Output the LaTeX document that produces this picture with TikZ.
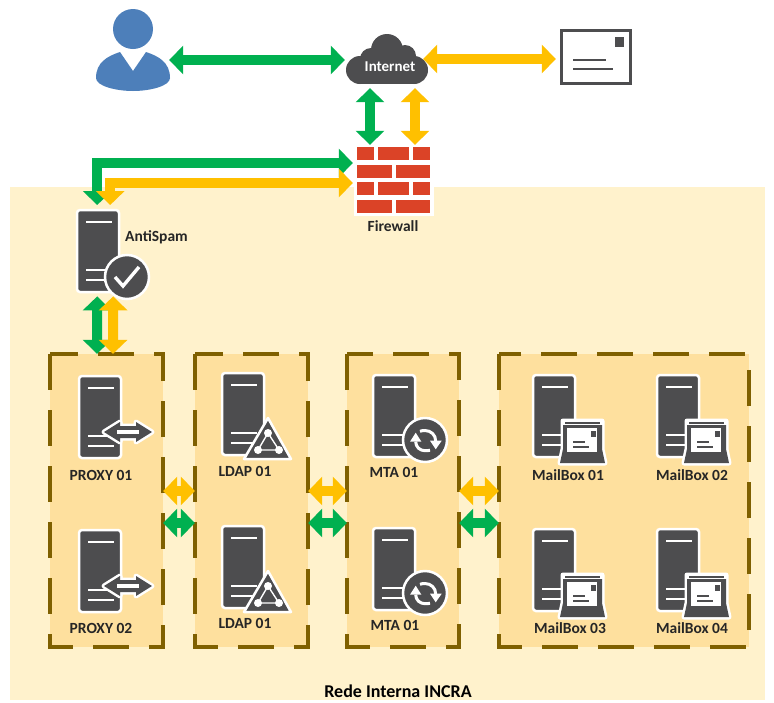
\documentclass[tikz,border=0pt]{standalone}
\usepackage{fontspec}
\setmainfont{Carlito}
\usetikzlibrary{arrows.meta,calc}
\definecolor{gArrow}{HTML}{00B050}
\definecolor{yArrow}{HTML}{FFC000}
\definecolor{zone}{HTML}{FFF2CC}
\definecolor{boxFill}{HTML}{FEE09E}
\definecolor{boxLine}{HTML}{7F6000}
\definecolor{dark}{HTML}{4D4D4F}
\definecolor{brick}{HTML}{DB4327}
\definecolor{userBlue}{HTML}{4D7FBA}
\definecolor{ink}{HTML}{262626}
\tikzset{
  gbase/.style={line width=10pt,{Triangle[length=14pt,width=28pt]}-{Triangle[length=14pt,width=28pt]}},
  gboth/.style={gbase,draw=gArrow,color=gArrow},
  yboth/.style={gbase,draw=yArrow,color=yArrow},
  grp/.style={draw=boxLine,fill=boxFill,line width=4.5pt,dash pattern=on 36pt off 20pt},
  slot/.style={inner sep=0pt,minimum width=42pt,minimum height=82pt},
  lbl/.style={font=\fontsize{15.5}{17}\selectfont\bfseries,text=ink,inner sep=0pt},
  bar/.style={white,line width=2.6pt},
  brickf/.style={fill=brick,draw=none},
}
% server body: #1 name, #2,#3 top-left
\newcommand\srv[3]{%
  \node[slot,anchor=north west] (#1) at (#2,#3) {};
  \begin{scope}[shift={(#2,#3)}]
    \fill[dark,draw=white,line width=2.5pt,rounded corners=3pt] (0,82) -- (0,0) -- (42,0) -- (42,82) -- cycle;
    \draw[bar] (9,12) -- (35,12);
    \draw[bar] (9,60) -- (35,60);
    \draw[bar] (9,70) -- (35,70);
  \end{scope}}
\newcommand\sync[2]{%
  \begin{scope}[shift={(#1,#2)}]
    \fill[dark,draw=white,line width=2.5pt] (52,65) circle (22);
    \draw[white,line width=3pt] (62.7,66) .. controls (62.7,60) and (58,55.5) .. (52,55.5) .. controls (50,55.5) and (48.5,55.7) .. (47,56.3);
    \fill[white] (57,65.7) -- (68.7,65.7) -- (62.7,74.3) -- cycle;
    \draw[white,line width=3pt] (42.7,66.7) .. controls (42.7,72) and (47,75.7) .. (52,75.7) .. controls (54,75.7) and (55.5,75.7) .. (57,75.2);
    \fill[white] (37,66.7) -- (48.4,66.7) -- (42.7,57.7) -- cycle;
  \end{scope}}
\newcommand\tray[2]{%
  \begin{scope}[shift={(#1,#2)}]
    \draw[white,line width=5pt,line join=round] (30,46) -- (69,46) -- (69,74) -- (72,88) -- (27,88) -- (30,74) -- cycle;
    \fill[white] (30,46) -- (69,46) -- (69,74) -- (72,88) -- (27,88) -- (30,74) -- cycle;
    \fill[dark] (32,46.5) rectangle (67,48.5);
    \fill[dark] (30,50) -- (69,50) -- (69,74) -- (72,88) -- (27,88) -- (30,74) -- cycle;
    \fill[white] (34,53) rectangle (64,77);
    \fill[dark] (58,56) rectangle (63,62);
    \draw[dark,line width=1.2pt] (40,67) -- (52,67) (40,72) -- (56,72);
  \end{scope}}
\begin{document}
\begin{tikzpicture}[x=1pt,y=-1pt]
\useasboundingbox (0,0) rectangle (774,702);
\fill[white] (0,0) rectangle (774,702);
\fill[zone] (10,187) rectangle (765,700);
% groups
\filldraw[grp] (50,354) rectangle (163,647);
\filldraw[grp] (195,354) rectangle (308,647);
\filldraw[grp] (347,354) rectangle (459,647);
\filldraw[grp] (499,354) rectangle (749,647);
\node[inner sep=0pt,minimum width=113pt,minimum height=293pt] (gProxy) at (106.5,500.5) {};
\node[inner sep=0pt,minimum width=113pt,minimum height=293pt] (gLdap) at (251.5,500.5) {};
\node[inner sep=0pt,minimum width=112pt,minimum height=293pt] (gMta) at (403,500.5) {};
\node[inner sep=0pt,minimum width=250pt,minimum height=293pt] (gMail) at (624,500.5) {};
% user
\node[inner sep=0pt,minimum width=74pt,minimum height=82pt] (user) at (133,50) {};
\fill[userBlue] (133,29) circle (20);
\fill[userBlue] (96,78) .. controls (96,62) and (108,56) .. (120,52) -- (133,71) -- (146,52) .. controls (158,56) and (170,62) .. (170,78) .. controls (170,86) and (150,91) .. (133,91) .. controls (116,91) and (96,86) .. (96,78) -- cycle;
% cloud
\node[inner sep=0pt,minimum width=82pt,minimum height=50pt] (cloud) at (387,59) {};
\foreach \cx/\cy/\cr in {360/70/14,414/70/14,387/50/16,371/59/11,405/56/11}{\fill[dark] (\cx,\cy) circle (\cr);}
\fill[dark] (360,56) rectangle (414,84);
\node[font=\fontsize{15}{17}\selectfont\bfseries,text=white,inner sep=0pt] (internetLbl) at (390,67) {Internet};
% envelope
\node[inner sep=0pt,minimum width=72pt,minimum height=56pt] (env) at (596,57) {};
\draw[dark,line width=3pt,fill=white] (561.5,30.5) rectangle (630.5,83.5);
\fill[dark] (615,37) rectangle (624,47);
\draw[dark,line width=2pt] (573,60) -- (606,60) (573,69) -- (613,69);
% firewall
\node[inner sep=0pt,minimum width=74pt,minimum height=66pt] (fw) at (394,180) {};
\fill[white] (354,144) rectangle (434,216);
\foreach \ya in {147,182}{
  \fill[brickf] (357,\ya) rectangle (374,{\ya+13});
  \fill[brickf] (378,\ya) rectangle (409,{\ya+13});
  \fill[brickf] (413,\ya) rectangle (430,{\ya+13});
}
\foreach \ya in {165,200}{
  \fill[brickf] (357,\ya) rectangle (392,{\ya+13});
  \fill[brickf] (396,\ya) rectangle (430,{\ya+13});
}
\node[lbl] (fwLbl) at (393,226) {Firewall};
% servers
\srv{as}{77}{210}
\begin{scope}[shift={(77,210)}]
  \fill[dark,draw=white,line width=2.5pt] (50,67) circle (22);
  \draw[white,line width=3.4pt] (38,67) -- (46,76) -- (62,57);
\end{scope}
\node[lbl,anchor=west] (asLbl) at (125,237) {AntiSpam};
\foreach \nm/\yy in {p1/376,p2/530}{
  \srv{\nm}{79}{\yy}
  \begin{scope}[shift={(79,\yy)}]
    \fill[dark,draw=white,line width=5pt,line join=round] (25,56) -- (41,46) -- (41,50) -- (57,50) -- (57,46) -- (73,56) -- (57,66) -- (57,62) -- (41,62) -- (41,66) -- cycle;
    \fill[dark] (25,56) -- (41,46) -- (41,50) -- (57,50) -- (57,46) -- (73,56) -- (57,66) -- (57,62) -- (41,62) -- (41,66) -- cycle;
    \fill[white] (38,53.8) rectangle (60,58.2);
  \end{scope}
}
\foreach \nm/\yy in {l1/373,l2/526}{
  \srv{\nm}{222}{\yy}
  \begin{scope}[shift={(222,\yy)}]
    \fill[dark,draw=white,line width=2.5pt,line join=round] (46,45) -- (69,86) -- (22,86) -- cycle;
    \draw[white,line width=1.4pt] (46,60) -- (36,77) -- (57,77) -- cycle;
    \fill[white] (46,60) circle (4);
    \fill[white] (36,77) circle (4);
    \fill[white] (57,77) circle (4);
  \end{scope}
}
\srv{m1}{373}{375}\sync{373}{375}
\srv{m2}{373}{528}\sync{373}{528}
\srv{b1}{533}{375}\tray{533}{375}
\srv{b2}{657}{375}\tray{657}{375}
\srv{b3}{533}{529}\tray{533}{529}
\srv{b4}{657}{529}\tray{657}{529}
% labels
\node[lbl] (p1Lbl) at (101,475) {PROXY 01};
\node[lbl] (p2Lbl) at (101,628) {PROXY 02};
\node[lbl] (l1Lbl) at (245,471) {LDAP 01};
\node[lbl] (l2Lbl) at (245,623) {LDAP 01};
\node[lbl] (m1Lbl) at (394,472) {MTA 01};
\node[lbl] (m2Lbl) at (395,625) {MTA 01};
\node[lbl] (b1Lbl) at (568,475) {MailBox 01};
\node[lbl] (b2Lbl) at (692,475) {MailBox 02};
\node[lbl] (b3Lbl) at (570,628) {MailBox 03};
\node[lbl] (b4Lbl) at (692,628) {MailBox 04};
\node[font=\fontsize{18}{20}\selectfont\bfseries,text=black,inner sep=0pt] (zoneLbl) at (398,691) {Rede Interna INCRA};
% connectors
\draw[gboth] ([xshift=-1pt,yshift=-10pt]user.east) -- ([xshift=-1pt,yshift=-1pt]cloud.west);
\draw[yboth] ([xshift=-5pt]cloud.east) -- ([xshift=-4pt,yshift=-2pt]env.west);
\draw[gboth] ([xshift=-17pt,yshift=-4pt]cloud.south) -- ([xshift=-24pt,yshift=2pt]fw.north);
\draw[yboth] ([xshift=28pt,yshift=-4pt]cloud.south) -- ([xshift=21pt,yshift=2pt]fw.north);
\draw[gboth] ([xshift=-4pt,yshift=17pt]fw.west) -| ([xshift=-1pt,yshift=5pt]as.north);
\draw[yboth] ([xshift=-4pt,yshift=-3pt]fw.west) -| ([xshift=12pt,yshift=5pt]as.north);
\draw[gboth] ([xshift=-1pt,yshift=-4pt]as.south) -- ([xshift=-9.5pt]gProxy.north);
\draw[yboth] ([xshift=15pt,yshift=-4pt]as.south) -- ([xshift=6.5pt]gProxy.north);
\foreach \a/\b in {gProxy/gLdap,gLdap/gMta,gMta/gMail}{
  \draw[yboth] ([yshift=9.5pt]\a.east) -- ([yshift=9.5pt]\b.west);
  \draw[gboth] ([yshift=-22.5pt]\a.east) -- ([yshift=-22.5pt]\b.west);
}
\end{tikzpicture}
\end{document}
